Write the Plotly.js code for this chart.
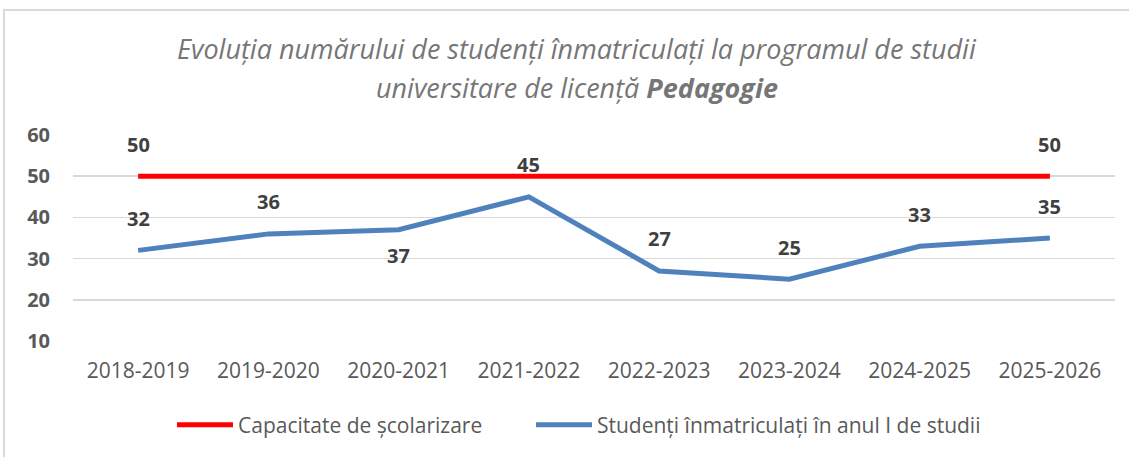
<!DOCTYPE html>
<html>
<head>
<meta charset="utf-8">
<script src="https://cdn.plot.ly/plotly-3.0.1.min.js"></script>
<style>
  html, body { margin: 0; padding: 0; background: #ffffff; }
  #wrap { position: relative; width: 1129px; height: 457px; overflow: hidden; }
  #chart { width: 1129px; height: 457px; }
  #frame { position: absolute; left: 3px; top: 9px; width: 1200px; height: 500px;
           border: 2px solid #d9d9d9; pointer-events: none; box-sizing: border-box; }
</style>
</head>
<body>
<div id="wrap">
  <div id="chart"></div>
  <div id="frame"></div>
</div>
<script>
const categories = ["2018-2019", "2019-2020", "2020-2021", "2021-2022", "2022-2023", "2023-2024", "2024-2025", "2025-2026"];
const capacitate = [50, 50, 50, 50, 50, 50, 50, 50];
const studenti = [32, 36, 37, 45, 27, 25, 33, 35];
const capacitateLabelIdx = [0, 7];
const studentiLabelPos = ["above", "above", "below", "above", "above", "above", "above", "above"];
const yTicks = [10, 20, 30, 40, 50, 60];
const seriesNames = ["Capacitate de școlarizare", "Studenți înmatriculați în anul I de studii"];
const titleLine1 = "Evoluția numărului de studenți înmatriculați la programul de studii";
const titleLine2 = "universitare de licență <b>Pedagogie</b>";

const FONT = "'Open Sans', 'DejaVu Sans', sans-serif";
const labelFont = { family: FONT, size: 20, color: "#404040", weight: 700 };
const legendFont = { family: FONT, size: 21, color: "#595959" };

const traces = [
  {
    type: "scatter", mode: "lines", name: seriesNames[0],
    x: categories, y: capacitate, legend: "legend",
    line: { color: "#FF0000", width: 5 }
  },
  {
    type: "scatter", mode: "lines", name: seriesNames[1],
    x: categories, y: studenti, legend: "legend2",
    line: { color: "#4F81BD", width: 5 }
  }
];

const annotations = [];
capacitateLabelIdx.forEach(i => {
  annotations.push({
    x: categories[i], y: capacitate[i], xref: "x", yref: "y",
    text: "<b>" + capacitate[i] + "</b>", showarrow: false,
    yshift: 32, font: labelFont
  });
});
studenti.forEach((v, i) => {
  annotations.push({
    x: categories[i], y: v, xref: "x", yref: "y",
    text: "<b>" + v + "</b>", showarrow: false,
    yshift: studentiLabelPos[i] === "above" ? 32 : -26, font: labelFont
  });
});
annotations.push({
  x: 0.484, y: 1.52, xref: "paper", yref: "paper", showarrow: false,
  text: "<i>" + titleLine1 + "</i>",
  font: { family: FONT, size: 27, color: "#767676" }
});
annotations.push({
  x: 0.484, y: 1.328, xref: "paper", yref: "paper", showarrow: false,
  text: "<i>" + titleLine2 + "</i>",
  font: { family: FONT, size: 27, color: "#767676" }
});

const layout = {
  width: 1129, height: 457,
  margin: { l: 73, r: 14, t: 135, b: 116 },
  paper_bgcolor: "rgba(0,0,0,0)",
  plot_bgcolor: "#ffffff",
  showlegend: true,
  legend: {
    orientation: "h", x: 0.095, xanchor: "left", y: -0.408, yanchor: "middle",
    font: legendFont, itemwidth: 56
  },
  legend2: {
    orientation: "h", x: 0.4395, xanchor: "left", y: -0.408, yanchor: "middle",
    font: legendFont, itemwidth: 56
  },
  xaxis: {
    type: "category", range: [-0.5, 7.5],
    showgrid: false, zeroline: false, showline: false,
    ticks: "", ticklabelstandoff: 15,
    tickfont: { family: FONT, size: 21, color: "#595959" }
  },
  yaxis: {
    range: [10, 60], tickvals: yTicks, ticktext: yTicks.map(String),
    showgrid: true, gridcolor: "#d9d9d9", gridwidth: 1.5,
    zeroline: false, showline: false, ticks: "",
    ticklabelstandoff: 22,
    tickfont: { family: FONT, size: 20, color: "#595959", weight: 700 }
  },
  annotations: annotations
};

Plotly.newPlot("chart", traces, layout, { displayModeBar: false, staticPlot: true });
</script>
</body>
</html>
